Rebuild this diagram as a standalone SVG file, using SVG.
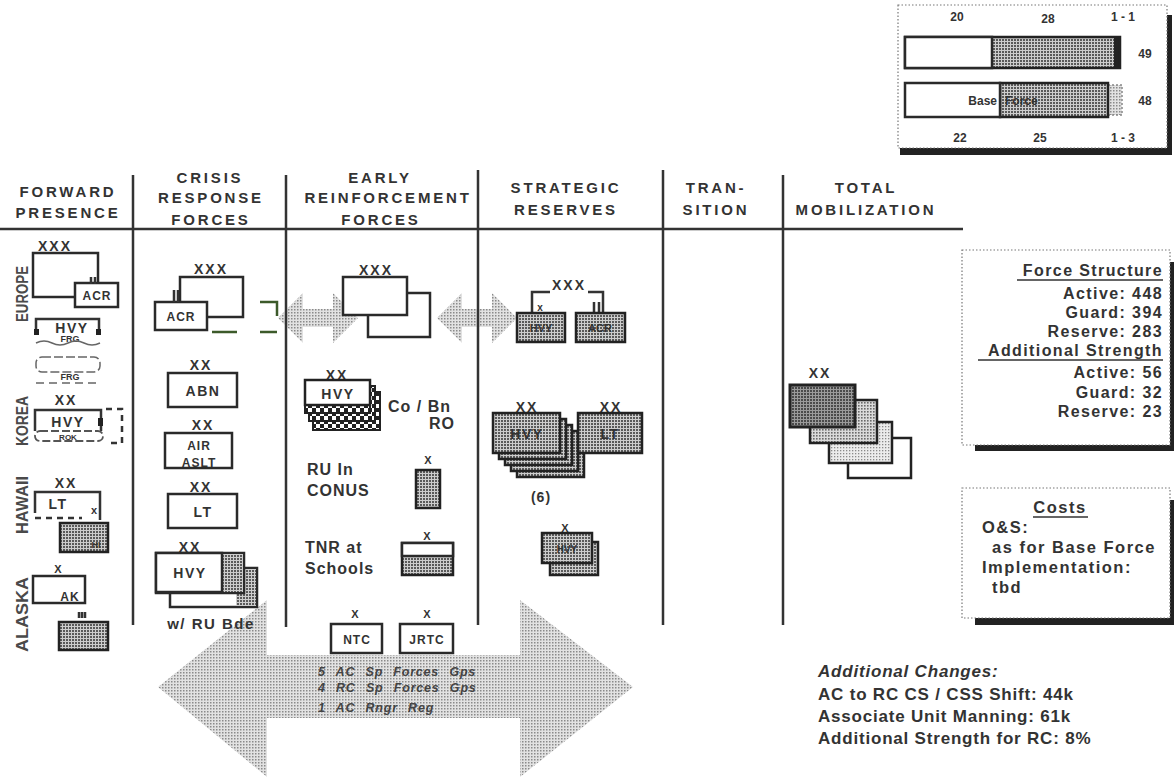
<svg xmlns="http://www.w3.org/2000/svg" width="1174" height="779" viewBox="0 0 1174 779">
<defs>
<pattern id="dk" width="3" height="3" patternUnits="userSpaceOnUse"><rect width="3" height="3" fill="#cdcdcd"/><rect width="2" height="2" fill="#5a5a5a"/></pattern>
<pattern id="lg" width="3" height="3" patternUnits="userSpaceOnUse"><rect width="3" height="3" fill="#e2e2e2"/><rect width="1.5" height="1.5" fill="#8a8a8a"/></pattern>
<pattern id="t1" width="3" height="3" patternUnits="userSpaceOnUse"><rect width="3" height="3" fill="#9a9a9a"/><rect width="2" height="2" fill="#4a4a4a"/></pattern>
<pattern id="t2" width="3" height="3" patternUnits="userSpaceOnUse"><rect width="3" height="3" fill="#dadada"/><rect width="1.6" height="1.6" fill="#6a6a6a"/></pattern>
<pattern id="t3" width="3" height="3" patternUnits="userSpaceOnUse"><rect width="3" height="3" fill="#ececec"/><rect width="1.3" height="1.3" fill="#8a8a8a"/></pattern>
<pattern id="ck" width="8" height="8" patternUnits="userSpaceOnUse"><rect width="8" height="8" fill="#fff"/><rect width="4" height="4" fill="#222"/><rect x="4" y="4" width="4" height="4" fill="#222"/></pattern>
</defs>
<style>
text{font-family:"Liberation Sans",Arial,Helvetica,sans-serif;font-weight:bold;fill:#333}
.h{font-size:15px;letter-spacing:2.8px;text-anchor:middle}
.u{font-size:14px;letter-spacing:2px;text-anchor:middle}
.x{font-size:11px;text-anchor:middle}
.n{font-size:14px;letter-spacing:1.5px;text-anchor:middle}
.sm{font-size:12px;letter-spacing:1px;text-anchor:middle}
.b{fill:#fff;stroke:#2a2a2a;stroke-width:2.5}
.s{fill:url(#dk);stroke:#222;stroke-width:2.5}
.ln{stroke:#333;stroke-width:2.5;fill:none}
.v{font-size:17px;fill:#4a4a4a}
.r{font-size:16px;letter-spacing:1.4px;text-anchor:end}
.l{font-size:16px;letter-spacing:1px}
.c{font-size:16.5px;letter-spacing:1.5px}
.g{font-size:12px;text-anchor:middle}
.it{font-size:12.5px;font-style:italic;fill:#444;letter-spacing:0.8px;word-spacing:6px}
.ac{font-size:17px;letter-spacing:0.8px}
.sh{fill:#222}
.dot{fill:#fff;stroke:#777;stroke-width:1.2;stroke-dasharray:1.5 2}
</style>

<!-- background gray arrows -->
<g id="connectors">
<polygon id="arrow-bottom" points="158,687 267,600 267,655 520,655 520,600 633,687 520,777 520,718 267,718 267,777" fill="url(#lg)"/>
<polygon id="arrow-cr-er" points="278,318 303,293 303,309 333,309 333,293 358,318 333,343 333,327 303,327 303,343" fill="url(#lg)"/>
<polygon id="arrow-er-sr" points="437,318 462,293 462,309 492,309 492,293 517,318 492,343 492,327 462,327 462,343" fill="url(#lg)"/>
</g>

<!-- header -->
<g id="header">
<text class="h" x="68" y="197">FORWARD</text>
<text class="h" x="68" y="218">PRESENCE</text>
<text class="h" x="210" y="183">CRISIS</text>
<text class="h" x="211" y="203">RESPONSE</text>
<text class="h" x="211" y="225">FORCES</text>
<text class="h" x="380" y="183">EARLY</text>
<text class="h" x="388" y="203">REINFORCEMENT</text>
<text class="h" x="381" y="225">FORCES</text>
<text class="h" x="566" y="193">STRATEGIC</text>
<text class="h" x="566" y="215">RESERVES</text>
<text class="h" x="716" y="193">TRAN-</text>
<text class="h" x="716" y="215">SITION</text>
<text class="h" x="866" y="193">TOTAL</text>
<text class="h" x="866" y="215">MOBILIZATION</text>
<path class="ln" d="M0,229 H963 M133,175 V625 M286,175 V627 M478,170 V625 M663,170 V625 M783,175 V625"/>
</g>

<!-- region labels -->
<g id="regions">
<text class="v" transform="translate(28,322) rotate(-90)" textLength="56" lengthAdjust="spacingAndGlyphs">EUROPE</text>
<text class="v" transform="translate(28,446) rotate(-90)" textLength="50" lengthAdjust="spacingAndGlyphs">KOREA</text>
<text class="v" transform="translate(28,534) rotate(-90)" textLength="58" lengthAdjust="spacingAndGlyphs">HAWAII</text>
<text class="v" transform="translate(28,652) rotate(-90)" textLength="75" lengthAdjust="spacingAndGlyphs">ALASKA</text>
</g>

<!-- Forward presence -->
<g id="fp-europe-acr">
<text class="u" x="55" y="251">XXX</text>
<rect class="b" x="33" y="253" width="65" height="44"/>
<rect class="b" x="75" y="283" width="43" height="24"/>
<path class="ln" stroke-width="1.8" d="M91,277 V284 M95,277 V284"/>
<text class="sm" x="97" y="300">ACR</text>
</g>
<g id="fp-europe-hvy">
<path class="ln" d="M36,333 V319 H99 V333"/>
<rect class="sh" x="34" y="329" width="5" height="6"/>
<rect class="sh" x="96" y="329" width="5" height="6"/>
<text class="n" x="72" y="333" fill="#444">HVY</text>
<text x="70" y="342" font-size="9" text-anchor="middle" fill="#777">FRG</text>
<path d="M36,343 q8,-4 16,0 t16,0 t16,0 t16,0" fill="none" stroke="#666" stroke-width="1.5"/>
<rect x="36" y="357" width="64" height="15" rx="6" fill="none" stroke="#666" stroke-width="1.5" stroke-dasharray="9 3"/>
<text x="70" y="380" font-size="9" text-anchor="middle" fill="#777">FRG</text>
<path d="M36,383 H100" stroke="#666" stroke-width="1.5" stroke-dasharray="8 5"/>
</g>
<g id="fp-korea-hvy">
<text class="u" x="66" y="405">XX</text>
<path class="ln" d="M35,431 V410 H101 V431"/>
<rect class="sh" x="98" y="418" width="5" height="8"/>
<text class="n" x="68" y="427">HVY</text>
<rect x="35" y="431" width="68" height="10" rx="5" fill="none" stroke="#555" stroke-width="1.8" stroke-dasharray="8 3"/>
<text x="68" y="440" font-size="8" text-anchor="middle" fill="#666">ROK</text>
<path class="ln" stroke-width="2" stroke-dasharray="6 5" d="M106,409 H122 V443 H106"/>
</g>
<g id="fp-hawaii-lt">
<text class="u" x="66" y="488">XX</text>
<path class="ln" d="M35,513 V492 H100 V520"/>
<path class="ln" stroke-width="2" stroke-dasharray="6 5" d="M35,518 H82"/>
<text class="n" x="58" y="509">LT</text>
<text class="x" x="94" y="514">x</text>
<rect class="s" x="60" y="523" width="48" height="29"/>
<text x="96" y="548" font-size="9" text-anchor="middle" fill="#222">HI</text>
</g>
<g id="fp-alaska-ak">
<text class="x" x="58" y="573">X</text>
<rect class="b" x="33" y="576" width="52" height="27"/>
<text class="sm" x="70" y="601">AK</text>
<path class="ln" stroke-width="1.5" d="M79,612 V618 M82,612 V618 M85,612 V618"/>
<rect class="s" x="59" y="622" width="49" height="28"/>
</g>

<!-- Crisis response -->
<g id="cr-acr">
<text class="u" x="211" y="274">XXX</text>
<rect class="b" x="180" y="277" width="63" height="40"/>
<rect class="b" x="155" y="302" width="52" height="28"/>
<path class="ln" stroke-width="1.8" d="M174,290 V302 M178,290 V302"/>
<text class="sm" x="181" y="321">ACR</text>
<path d="M260,302 H277 V316 M212,332 H237 M260,332 H277" fill="none" stroke="#3c5a2a" stroke-width="2.5"/>
</g>
<g id="cr-abn">
<text class="u" x="201" y="370">XX</text>
<rect class="b" x="168" y="373" width="69" height="34"/>
<text class="n" x="203" y="396">ABN</text>
</g>
<g id="cr-airaslt">
<text class="u" x="203" y="430">XX</text>
<rect class="b" x="165" y="433" width="67" height="35"/>
<text class="sm" x="199" y="450">AIR</text>
<text class="sm" x="199" y="467">ASLT</text>
</g>
<g id="cr-lt">
<text class="u" x="201" y="492">XX</text>
<rect class="b" x="168" y="494" width="69" height="34"/>
<text class="n" x="203" y="517">LT</text>
</g>
<g id="cr-hvy">
<text class="u" x="190" y="552">XX</text>
<rect class="b" x="170" y="568" width="87" height="39"/>
<rect x="236" y="569" width="20" height="37" fill="url(#dk)"/>
<rect class="b" x="156" y="553" width="88" height="40"/>
<rect x="223" y="554" width="20" height="38" fill="url(#dk)"/>
<rect class="b" x="156" y="553" width="66" height="39"/>
<text class="n" x="190" y="578">HVY</text>
</g>

<!-- Early reinforcement -->
<g id="er-xxx">
<text class="u" x="376" y="275">XXX</text>
<rect class="b" x="368" y="293" width="62" height="44"/>
<rect class="b" x="343" y="277" width="64" height="38"/>
</g>
<g id="er-hvy">
<text class="u" x="337" y="380">XX</text>
<rect x="313" y="392" width="67" height="38" fill="url(#ck)" stroke="#222" stroke-width="2"/>
<rect x="309" y="386" width="66" height="35" fill="url(#ck)" stroke="#222" stroke-width="2"/>
<rect x="305" y="380" width="65" height="33" fill="url(#ck)" stroke="#222" stroke-width="2"/>
<rect x="305" y="380" width="65" height="25" fill="#fff" stroke="#222" stroke-width="2.5"/>
<text class="n" x="338" y="399">HVY</text>
<text class="l" x="388" y="412">Co / Bn</text>
<text class="l" x="455" y="429" text-anchor="end">RO</text>
</g>
<g id="er-ru">
<text class="l" x="307" y="475">RU In</text>
<text class="l" x="307" y="496" letter-spacing="2">CONUS</text>
<text class="x" x="428" y="464">X</text>
<rect class="s" x="416" y="470" width="24" height="38"/>
</g>
<g id="er-tnr">
<text class="l" x="305" y="553">TNR at</text>
<text class="l" x="305" y="574">Schools</text>
<text class="x" x="427" y="540">X</text>
<rect class="s" x="402" y="543" width="51" height="32"/>
<rect class="b" x="402" y="543" width="51" height="13"/>
</g>
<g id="er-ntc">
<text class="x" x="355" y="618">X</text>
<rect class="b" x="331" y="624" width="51" height="29"/>
<text class="sm" x="357" y="644">NTC</text>
</g>
<g id="er-jrtc">
<text class="x" x="427" y="618">X</text>
<rect class="b" x="400" y="624" width="53" height="29"/>
<text class="sm" x="427" y="644">JRTC</text>
</g>
<g id="sof">
<text class="it" x="318" y="676">5 AC Sp Forces Gps</text>
<text class="it" x="318" y="692">4 RC Sp Forces Gps</text>
<text class="it" x="318" y="712">1 AC Rngr Reg</text>
</g>
<text x="211" y="629" font-size="15" letter-spacing="1.5" text-anchor="middle">w/ RU Bde</text>

<!-- Strategic reserves -->
<g id="sr-xxx">
<text class="u" x="569" y="290">XXX</text>
<path class="ln" stroke-width="2" d="M532,315 V292 H550 M588,292 H603 V315"/>
<text x="540" y="311" font-size="10" text-anchor="middle">x</text>
<path class="ln" stroke-width="1.8" d="M594,302 V313 M599,302 V313"/>
<rect class="s" x="517" y="313" width="48" height="29"/>
<text x="541" y="332" font-size="11" text-anchor="middle" fill="#333">HVY</text>
<rect class="s" x="576" y="313" width="49" height="29"/>
<text x="600" y="332" font-size="11" text-anchor="middle" fill="#333">ACR</text>
</g>
<g id="sr-hvy">
<text class="u" x="527" y="412">XX</text>
<rect class="s" x="517" y="437" width="67" height="40"/>
<rect class="s" x="511" y="431" width="67" height="40"/>
<rect class="s" x="505" y="425" width="67" height="40"/>
<rect class="s" x="499" y="419" width="67" height="40"/>
<rect class="s" x="493" y="413" width="67" height="40"/>
<text class="n" x="527" y="439">HVY</text>
<text x="541" y="502" font-size="14" letter-spacing="1" text-anchor="middle">(6)</text>
</g>
<g id="sr-lt">
<text class="u" x="611" y="412">XX</text>
<rect class="s" x="578" y="413" width="64" height="40"/>
<text class="n" x="610" y="439">LT</text>
</g>
<g id="sr-sep">
<text class="x" x="565" y="532">X</text>
<rect class="s" x="550" y="542" width="48" height="33"/>
<rect class="s" x="542" y="533" width="50" height="30"/>
<text x="567" y="553" font-size="10" text-anchor="middle">HVY</text>
</g>

<!-- Total mobilization -->
<g id="tm-xx">
<text class="u" x="820" y="378">XX</text>
<rect x="848" y="438" width="63" height="40" fill="#fff" stroke="#222" stroke-width="2.5"/>
<rect x="829" y="422" width="63" height="41" fill="url(#t3)" stroke="#222" stroke-width="2.5"/>
<rect x="810" y="400" width="67" height="43" fill="url(#t2)" stroke="#222" stroke-width="2.5"/>
<rect x="790" y="385" width="65" height="42" fill="url(#t1)" stroke="#222" stroke-width="3"/>
</g>

<!-- Legend top right -->
<g id="legend">
<rect class="sh" x="900" y="147" width="272" height="8"/>
<rect class="sh" x="1166" y="15" width="6" height="138"/>
<rect class="dot" x="898" y="5" width="269" height="143"/>
<text class="g" x="957" y="21">20</text>
<text class="g" x="1048" y="23">28</text>
<text class="g" x="1123" y="21">1 - 1</text>
<rect x="992" y="37" width="125" height="31" fill="url(#dk)"/>
<rect class="sh" x="1114" y="37" width="6" height="31"/>
<rect x="905" y="37" width="215" height="31" fill="none" stroke="#222" stroke-width="2.5"/>
<rect class="b" x="905" y="37" width="87" height="31"/>
<text class="g" x="1145" y="58">49</text>
<rect x="1108" y="85" width="14" height="30" fill="url(#lg)" stroke="#888" stroke-width="1.5" stroke-dasharray="2 2"/>
<rect x="1000" y="83" width="108" height="34" fill="url(#dk)" stroke="#222" stroke-width="2.5"/>
<rect class="b" x="905" y="83" width="95" height="34"/>
<text x="997" y="105" font-size="12" text-anchor="end">Base</text>
<text x="1005" y="105" font-size="12" fill="#444">Force</text>
<text class="g" x="1145" y="105">48</text>
<text class="g" x="960" y="142">22</text>
<text class="g" x="1040" y="142">25</text>
<text class="g" x="1123" y="142">1 - 3</text>
</g>

<!-- Force structure box -->
<g id="force-structure">
<rect class="sh" x="975" y="445" width="199" height="6"/>
<rect class="sh" x="1169" y="262" width="5" height="186"/>
<rect class="dot" x="962" y="250" width="208" height="195"/>
<text class="r" x="1163" y="276">Force Structure</text>
<path d="M1017,280 H1163 M978,360 H1163" stroke="#333" stroke-width="1.5"/>
<text class="r" x="1163" y="299">Active: 448</text>
<text class="r" x="1163" y="318">Guard: 394</text>
<text class="r" x="1163" y="337" fill="#44603a">Reserve: 283</text>
<text class="r" x="1163" y="356">Additional Strength</text>
<text class="r" x="1163" y="378">Active: 56</text>
<text class="r" x="1163" y="398">Guard: 32</text>
<text class="r" x="1163" y="417">Reserve: 23</text>
</g>

<!-- Costs box -->
<g id="costs">
<rect class="sh" x="975" y="618" width="199" height="7"/>
<rect class="sh" x="1169" y="500" width="5" height="122"/>
<rect class="dot" x="962" y="488" width="208" height="130"/>
<text class="c" x="1060" y="513" text-anchor="middle">Costs</text>
<path d="M1033,517 H1088" stroke="#333" stroke-width="1.5"/>
<text class="c" x="982" y="533">O&amp;S:</text>
<text class="c" x="992" y="553">as for Base Force</text>
<text class="c" x="982" y="573">Implementation:</text>
<text class="c" x="992" y="593">tbd</text>
</g>

<!-- Additional changes -->
<g id="additional-changes">
<text class="ac" x="818" y="677" font-style="italic">Additional Changes:</text>
<text class="ac" x="818" y="700">AC to RC CS / CSS Shift: 44k</text>
<text class="ac" x="818" y="722">Associate Unit Manning: 61k</text>
<text class="ac" x="818" y="744">Additional Strength for RC: 8%</text>
</g>
</svg>
